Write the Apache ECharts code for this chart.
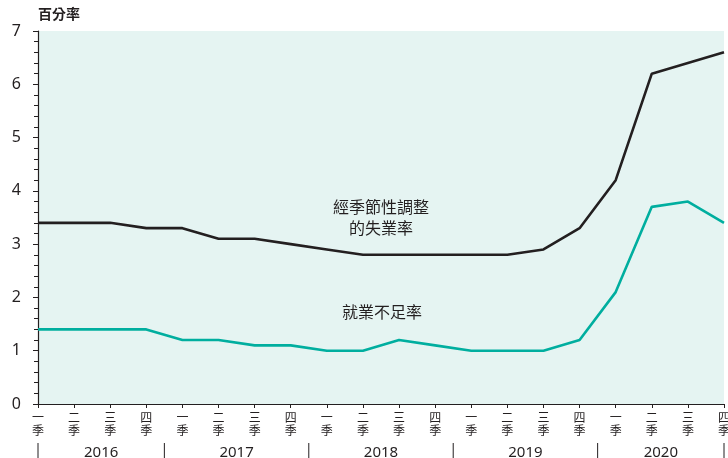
<!DOCTYPE html>
<html>
<head>
<meta charset="utf-8">
<script src="https://cdn.jsdelivr.net/npm/echarts@6/dist/echarts.min.js"></script>
<style>
html,body{margin:0;padding:0;background:#fff;}
#c{width:728px;height:458px;}
</style>
</head>
<body>
<div id="c"></div>
<script>
// ---- data ----
var quarters = ['一季','二季','三季','四季','一季','二季','三季','四季','一季','二季','三季','四季','一季','二季','三季','四季','一季','二季','三季','四季'];
var quarterYears = ['2016','2016','2016','2016','2017','2017','2017','2017','2018','2018','2018','2018','2019','2019','2019','2019','2020','2020','2020','2020'];
var unemploymentSA = [3.4,3.4,3.4,3.3, 3.3,3.1,3.1,3.0, 2.9,2.8,2.8,2.8, 2.8,2.8,2.9,3.3, 4.2,6.2,6.4,6.6];
var underemployment = [1.4,1.4,1.4,1.4, 1.2,1.2,1.1,1.1, 1.0,1.0,1.2,1.1, 1.0,1.0,1.0,1.2, 2.1,3.7,3.8,3.4];
var yTicks = [0,1,2,3,4,5,6,7];
var unitLabel = '百分率';
var label1 = '經季節性調整\n的失業率';
var label2 = '就業不足率';

// year groups derived from quarterYears
var years = [];
var bounds = [0];
for (var i = 0; i < quarterYears.length; i++) {
  if (years.indexOf(quarterYears[i]) < 0) years.push(quarterYears[i]);
  if (i > 0 && quarterYears[i] !== quarterYears[i-1]) bounds.push(i - 0.5);
}
bounds.push(quarterYears.length - 1);
var yearData = years.map(function(y, k){ return [bounds[k], bounds[k+1], y]; });

var FONT = '"Noto Sans", "Noto Sans CJK TC", sans-serif';
var DARK = '#231f20';

var chart = echarts.init(document.getElementById('c'));
chart.setOption({
  animation: false,
  grid: { left: 38, right: 4, top: 31, bottom: 54, show: true, backgroundColor: '#e5f4f2', borderWidth: 0, containLabel: false, outerBoundsMode: 'none' },
  xAxis: [{
    type: 'category',
    data: quarters,
    boundaryGap: false,
    axisLine: { lineStyle: { color: DARK, width: 1.2 } },
    axisTick: { show: true, length: 4, inside: false, interval: 0, lineStyle: { color: DARK } },
    axisLabel: {
      interval: 0, margin: 8, color: DARK, fontSize: 12, lineHeight: 13, fontFamily: FONT,
      hideOverlap: false,
      formatter: function(v){ return v.split('').join('\n'); }
    },
    splitLine: { show: false }
  }, {
    type: 'value', min: 0, max: quarters.length - 1, show: false, gridIndex: 0
  }],
  yAxis: {
    type: 'value', min: 0, max: yTicks[yTicks.length-1], interval: 1,
    name: unitLabel, nameLocation: 'end', nameGap: 9,
    nameTextStyle: { color: DARK, fontSize: 14, fontFamily: FONT, align: 'left', fontWeight: 'bold' },
    axisLine: { show: true, lineStyle: { color: DARK, width: 1.2 } },
    axisTick: { show: true, length: 5, lineStyle: { color: DARK } },
    minorTick: { show: true, splitNumber: 5, length: 4, lineStyle: { color: DARK } },
    axisLabel: { color: DARK, fontSize: 16, margin: 17, fontFamily: FONT },
    splitLine: { show: false }
  },
  series: [{
    type: 'line', data: underemployment, symbol: 'none',
    lineStyle: { color: '#00ae9f', width: 2.6 }, z: 3
  }, {
    type: 'line', data: unemploymentSA, symbol: 'none',
    lineStyle: { color: DARK, width: 2.6 }, z: 4
  }, {
    type: 'custom', xAxisIndex: 1, clip: false, silent: true,
    data: yearData,
    renderItem: function(params, api){
      var a = api.coord([api.value(0), 0]);
      var b = api.coord([api.value(1), 0]);
      var children = [];
      if (params.dataIndex === 0) {
        children.push({ type: 'line', shape: { x1: a[0], y1: a[1] + 39, x2: a[0], y2: a[1] + 54 }, style: { stroke: DARK, lineWidth: 1 } });
      }
      children.push({ type: 'line', shape: { x1: b[0], y1: b[1] + 39, x2: b[0], y2: b[1] + 54 }, style: { stroke: DARK, lineWidth: 1 } });
      children.push({ type: 'text', style: { text: yearData[params.dataIndex][2], x: (a[0] + b[0]) / 2, y: a[1] + 49, align: 'center', verticalAlign: 'middle', fill: DARK, fontSize: 15, fontFamily: FONT } });
      return { type: 'group', children: children };
    }
  }],
  graphic: [
    { type: 'text', left: 333, top: 198, style: { text: label1, fill: DARK, fontSize: 16, lineHeight: 21, textAlign: 'center', fontFamily: FONT }, z: 10 },
    { type: 'text', left: 342, top: 305, style: { text: label2, fill: DARK, fontSize: 16, fontFamily: FONT }, z: 10 }
  ]
});
</script>
</body>
</html>
